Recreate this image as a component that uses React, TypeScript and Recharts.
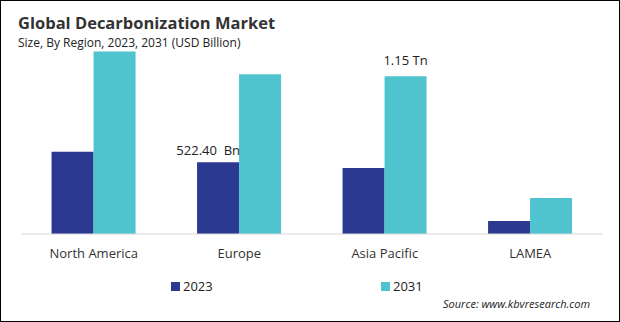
import React from 'react';
import { BarChart, Bar, XAxis, YAxis, LabelList } from 'recharts';

const regions = ['North America', 'Europe', 'Asia Pacific', 'LAMEA'];
const values2023 = [600, 522.4, 482, 95];
const values2031 = [1330, 1165, 1150, 263];
const labels2023 = ['', '522.40  Bn', '', ''];
const labels2031 = ['', '', '1.15 Tn', ''];

const data = regions.map((region, i) => ({
    region,
    y2023: values2023[i],
    y2031: values2031[i],
    l2023: labels2023[i],
    l2031: labels2031[i],
}));

const FONT = '"Open Sans", "Noto Sans", sans-serif';
const DARK = '#2b3990';
const CYAN = '#4fc4cf';

const LeftLabel = (props: any) => {
    const { x, y, width, value } = props;
    if (!value) return null;
    return (
        <text x={x + width + 1} y={y - 7} textAnchor="end" fontSize={13} fill="#222" fontFamily={FONT} style={{ whiteSpace: 'pre' }}>
            {value}
        </text>
    );
};

const TopLabel = (props: any) => {
    const { x, y, width, value } = props;
    if (!value) return null;
    return (
        <text x={x + width / 2} y={y - 11} textAnchor="middle" fontSize={13} fill="#222" fontFamily={FONT}>
            {value}
        </text>
    );
};

export default function App() {
    return (
        <div
            style={{
                position: 'fixed',
                left: 0,
                top: 0,
                width: 620,
                height: 322,
                background: '#fff',
                boxSizing: 'border-box',
                border: '1px solid #000',
                fontFamily: FONT,
                overflow: 'hidden',
            }}
        >
            <div style={{ position: 'absolute', left: 17, top: 10, fontSize: 16.5, fontWeight: 700, color: '#333' }}>
                Global Decarbonization Market
            </div>
            <div style={{ position: 'absolute', left: 17, top: 33, fontSize: 12, color: '#222' }}>
                Size, By Region, 2023, 2031 (USD Billion)
            </div>
            <div style={{ position: 'absolute', left: -1, top: -1 }}>
                <BarChart
                    width={620}
                    height={322}
                    data={data}
                    margin={{ top: 42, right: 17, left: 21, bottom: 58 }}
                    barCategoryGap="21%"
                    barGap={0}
                >
                    <YAxis hide domain={[0, 1400]} />
                    <XAxis
                        dataKey="region"
                        height={30}
                        tickLine={false}
                        axisLine={{ stroke: '#d9d9d9' }}
                        tick={{ fill: '#333', fontSize: 13, fontFamily: FONT }}
                        dy={7}
                    />
                    <Bar dataKey="y2023" fill={DARK} isAnimationActive={false}>
                        <LabelList dataKey="l2023" content={<LeftLabel />} />
                    </Bar>
                    <Bar dataKey="y2031" fill={CYAN} isAnimationActive={false}>
                        <LabelList dataKey="l2031" content={<TopLabel />} />
                    </Bar>
                </BarChart>
            </div>
            <div style={{ position: 'absolute', left: 170, top: 276, fontSize: 13, color: '#222', display: 'flex', alignItems: 'center' }}>
                <span style={{ width: 9, height: 9, background: DARK, marginRight: 3, display: 'inline-block' }} />
                2023
            </div>
            <div style={{ position: 'absolute', left: 380, top: 276, fontSize: 13, color: '#222', display: 'flex', alignItems: 'center' }}>
                <span style={{ width: 9, height: 9, background: CYAN, marginRight: 3, display: 'inline-block' }} />
                2031
            </div>
            <div style={{ position: 'absolute', left: 442, top: 295, fontSize: 11, fontStyle: 'italic', color: '#222' }}>
                Source: www.kbvresearch.com
            </div>
        </div>
    );
}
